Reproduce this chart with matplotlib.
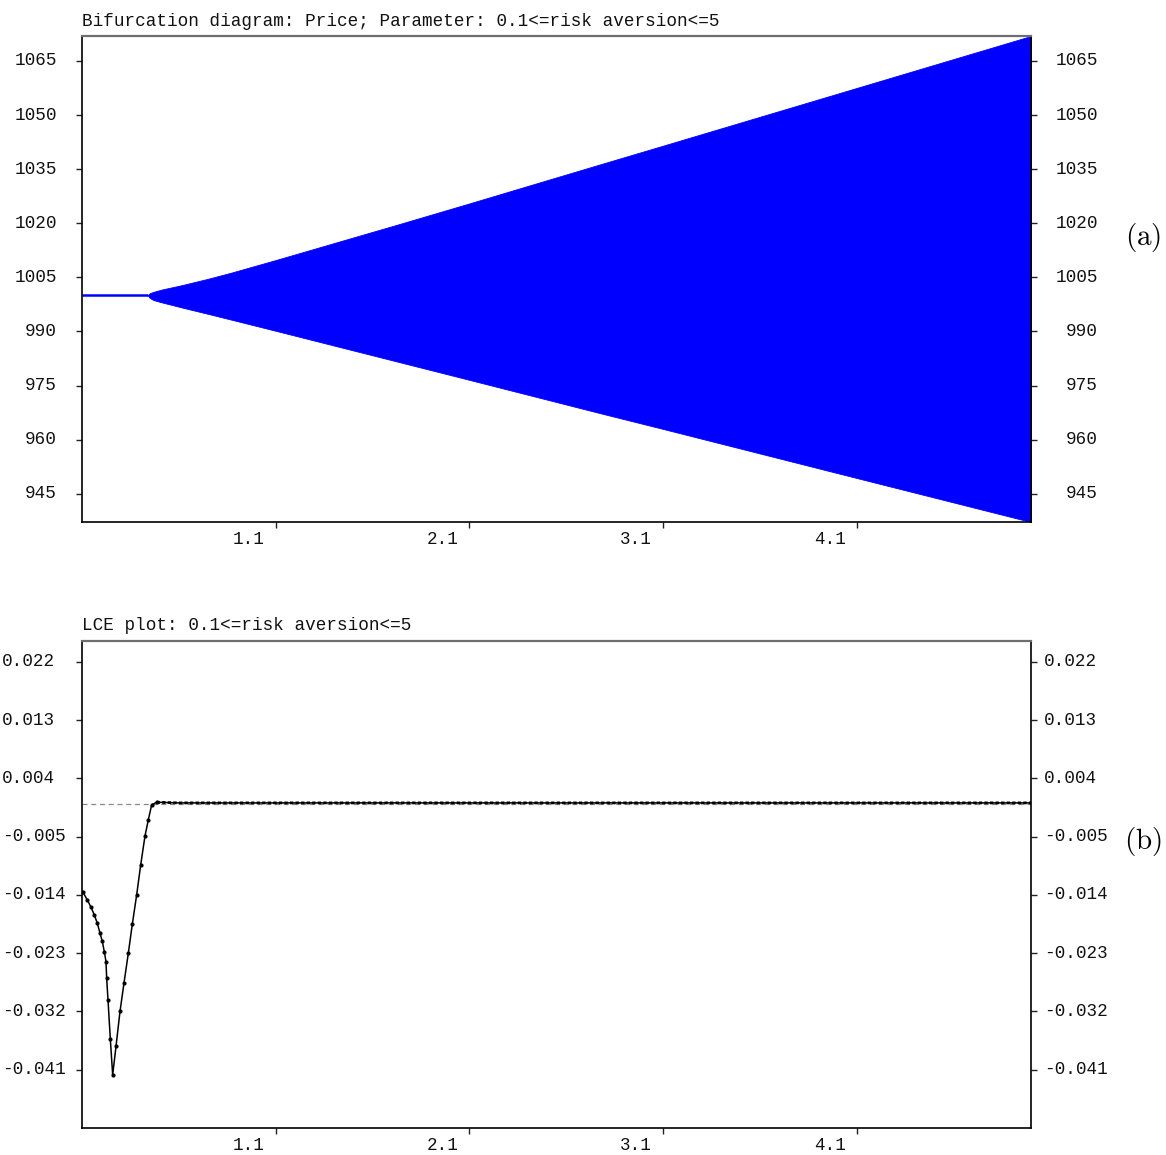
import numpy as np
import matplotlib
matplotlib.use("Agg")
import matplotlib.pyplot as plt
from matplotlib.transforms import blended_transform_factory, offset_copy

# ---------------- data ----------------
# (a) bifurcation diagram: fixed point then oscillation envelope
fixed_param = [0.1, 0.44]
fixed_price = [1000.0, 1000.0]
env_param = [0.44, 0.45, 0.47, 0.51, 0.62, 0.75, 0.87, 1.1, 1.74, 2.1, 2.78, 3.1, 4.1, 5.0]
env_upper = [1000.0, 1000.6, 1001.0, 1001.6, 1002.9, 1004.6, 1006.3, 1009.8, 1019.8, 1025.5, 1036.4, 1041.5, 1057.5, 1071.9]
env_lower = [1000.0, 999.3, 998.7, 998.1, 996.6, 994.9, 993.3, 990.2, 981.5, 976.6, 967.3, 963.0, 949.4, 937.2]

# (b) largest Lyapunov characteristic exponent
lce_param = [0.1035, 0.1275, 0.1448, 0.1637, 0.1792, 0.1929, 0.205, 0.2153, 0.2239,
             0.2274, 0.2342, 0.2463, 0.2584, 0.2756, 0.2962, 0.3169, 0.3392, 0.3599,
             0.3823, 0.4029, 0.4253, 0.4425, 0.4597, 0.4855,
             0.6, 1.0, 1.5, 2.0, 2.5, 3.0, 3.5, 4.0, 4.5, 5.0]
lce_value = [-0.0135, -0.0148, -0.0158, -0.0171, -0.0184, -0.0199, -0.0212, -0.0228, -0.0243,
             -0.0269, -0.0302, -0.0363, -0.0418, -0.0374, -0.0320, -0.0276, -0.0230, -0.0185,
             -0.0140, -0.0094, -0.0049, -0.0024, -0.0001, 0.0003,
             0.0002, 0.0002, 0.0002, 0.0002, 0.0002, 0.0002, 0.0002, 0.0002, 0.0002, 0.0002]

xticks = [1.1, 2.1, 3.1, 4.1]
xtick_labels = ["1.1", "2.1", "3.1", "4.1"]
price_ticks = [1065, 1050, 1035, 1020, 1005, 990, 975, 960, 945]
price_labels = ["1065", "1050", "1035", "1020", "1005", "990", "975", "960", "945"]
lce_ticks = [0.022, 0.013, 0.004, -0.005, -0.014, -0.023, -0.032, -0.041]
lce_labels = ["0.022", "0.013", "0.004", "-0.005", "-0.014", "-0.023", "-0.032", "-0.041"]

title_a = "Bifurcation diagram: Price; Parameter: 0.1<=risk aversion<=5"
title_b = "LCE plot: 0.1<=risk aversion<=5"

# ---------------- figure ----------------
W, H = 1166, 1155
fig = plt.figure(figsize=(W / 100, H / 100), dpi=100)
plt.rcParams['mathtext.fontset'] = 'cm'
MONO = dict(family='Liberation Mono', size=12.7, color='#111111')

def make_axes(left, top, right, bottom):
    return fig.add_axes([left / W, 1 - bottom / H, (right - left) / W, (bottom - top) / H])

ax1 = make_axes(82, 36, 1031, 522)
ax2 = make_axes(82, 641, 1031, 1128)

def style(ax):
    for s in ['left', 'bottom', 'right']:
        ax.spines[s].set_color('black')
        ax.spines[s].set_linewidth(1.2)
    ax.spines['top'].set_color('#6e6e6e')
    ax.spines['top'].set_linewidth(1.6)
    ax.tick_params(axis='both', direction='out', length=4.5, width=1.0, color='#222222',
                   labelleft=False, labelbottom=False, labelright=False)
    ax.tick_params(axis='y', left=True, right=True)
    ax.set_xlim(0.1, 5.0)
    ax.set_xticks(xticks)

style(ax1)
style(ax2)

# panel (a)
ax1.fill_between(env_param, env_lower, env_upper, color='#0000ff', linewidth=0.6, edgecolor='#0000ff')
ax1.plot(fixed_param, fixed_price, color='#0000ff', lw=1.8, solid_capstyle='butt')
ax1.set_ylim(937.2, 1071.9)
ax1.set_yticks(price_ticks)

# panel (b)
ax2.axhline(0.0, color='#888888', lw=0.9, ls=(0, (4, 3)))
lp = np.array(lce_param)
lv = np.array(lce_value)
ax2.plot(lp, lv, color='black', lw=1.1)
dip = lp < 0.5
ax2.plot(lp[dip], lv[dip], ls='none', marker='o', ms=2.0, color='black')
flat = lp >= 0.48
ax2.plot(lp[flat], lv[flat], color='black', lw=2.0, ls=(0, (1.2, 0.8)))
ax2.set_ylim(-0.0500, 0.0252)
ax2.set_yticks(lce_ticks)

# manual tick labels
def ylabels(ax, ticks, labels, xl, xr, ha):
    tr = blended_transform_factory(fig.transFigure, ax.transData)
    for t, l in zip(ticks, labels):
        fig.text(xl / W, t, l, transform=tr, ha=ha, va='center', **MONO)
        fig.text(xr / W, t, l, transform=tr, ha=ha, va='center', **MONO)

def xlabels(ax):
    tr = offset_copy(blended_transform_factory(ax.transData, ax.transAxes), fig=fig,
                     x=-11, y=-18, units='dots')
    for t, l in zip(xticks, xtick_labels):
        ax.text(t, 0, l, transform=tr, ha='right', va='center', **MONO)

ylabels(ax1, price_ticks, price_labels, 57, 1098, 'right')
ylabels(ax2, lce_ticks, lce_labels, 2, 1044, 'left')
xlabels(ax1)
xlabels(ax2)

fig.text(82 / W, 1 - 21 / H, title_a, ha='left', va='center', **MONO)
fig.text(82 / W, 1 - 625 / H, title_b, ha='left', va='center', **MONO)

fig.text(1143 / W, 1 - 237 / H, r'$\mathrm{(a)}$', ha='center', va='center', fontsize=21)
fig.text(1143 / W, 1 - 841 / H, r'$\mathrm{(b)}$', ha='center', va='center', fontsize=21)

fig.savefig('out.png', dpi=100)
